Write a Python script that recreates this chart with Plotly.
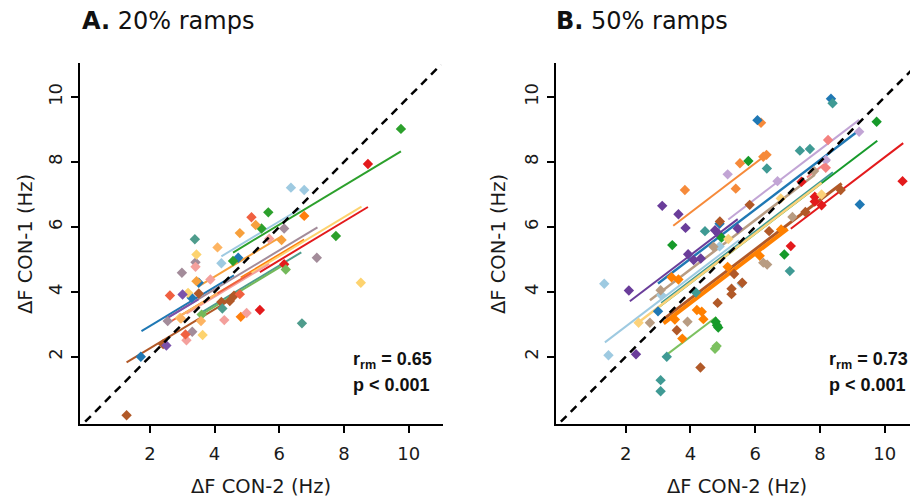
import plotly.graph_objects as go

W, H = 910, 498

# ---------------- Panel A: 20% ramps ----------------
A_slope = 0.6
A_colors = ["#1f78b4", "#b15928", "#2ca02c", "#9ecae1", "#f7a03c", "#ff7f0e",
            "#a38c9a", "#fdd36f", "#e31a1c", "#4e9c8c", "#74b95a", "#f4a09c",
            "#7b52ab", "#f06040", "#fdb462"]
A_x = [[1.72, 3.29, 3.51, 4.73],
       [1.28, 2.41, 3.51, 4.21, 4.47, 4.60],
       [4.57, 5.45, 5.66, 7.75, 9.76],
       [4.21, 6.36, 6.77],
       [3.44, 4.78, 5.27, 6.07],
       [4.81, 6.77],
       [2.55, 2.99, 3.31, 3.41, 6.15, 7.16],
       [2.93, 3.18, 3.44, 3.63, 8.52],
       [5.40, 6.15, 8.74],
       [3.39, 4.24, 6.70],
       [3.60, 6.20],
       [3.13, 3.41, 3.87, 4.30, 4.99, 5.69],
       [2.51, 3.01],
       [2.62, 3.10, 4.78, 5.14],
       [2.96, 3.58, 4.09]]
A_y = [[2.00, 3.82, 4.28, 5.05],
       [0.20, 2.39, 3.95, 3.69, 3.72, 3.88],
       [4.95, 5.95, 6.45, 5.72, 9.02],
       [4.88, 7.21, 7.14],
       [4.33, 5.81, 6.06, 5.60],
       [3.23, 6.34],
       [3.10, 4.59, 2.77, 4.91, 5.95, 5.05],
       [3.20, 3.97, 5.15, 2.67, 4.28],
       [3.44, 4.85, 7.94],
       [5.62, 3.49, 3.03],
       [3.30, 4.69],
       [2.51, 4.77, 4.38, 3.13, 3.35, 5.64],
       [2.35, 3.92],
       [3.89, 2.69, 3.93, 6.30],
       [3.18, 3.10, 5.37]]
A_fit_x0 = [1.74, 1.28, 4.57, 4.21, 3.49, 4.81, 2.51, 2.93, 5.40, 3.55, 3.60, 3.13, 2.51, 2.62, 2.96]
A_fit_x1 = [4.60, 4.60, 9.76, 6.65, 6.07, 6.77, 7.18, 8.54, 8.74, 6.68, 6.20, 5.69, 3.50, 5.14, 4.09]
A_fit_b = [1.75, 1.06, 2.47, 2.57, 2.07, 1.55, 1.68, 1.50, 1.37, 1.21, 1.15, 1.45, 1.67, 1.50, 1.50]

# ---------------- Panel B: 50% ramps ----------------
B_slope = 0.76
B_colors = ["#9ecae1", "#6a3d9a", "#f68a3a", "#c2a5d5", "#1f78b4", "#169a2a",
            "#e31a1c", "#b15928", "#ff8000", "#3f9a94", "#7cc160", "#b89c82",
            "#fcd27a", "#f4817f"]
B_x = [[1.34, 1.47, 3.10, 4.90, 5.58],
       [2.10, 2.32, 3.13, 3.63, 3.85, 3.93, 4.10, 4.32, 4.76, 4.86, 5.46],
       [3.83, 5.40, 5.53, 6.18, 6.25, 6.35],
       [5.15, 6.69, 8.18, 9.21],
       [3.00, 4.90, 6.07, 8.34, 9.23],
       [3.44, 4.78, 4.82, 4.86, 4.96, 5.79, 6.90, 9.75],
       [7.10, 7.43, 7.84, 7.84, 8.05, 10.55],
       [3.58, 4.31, 4.84, 4.91, 5.27, 5.27, 5.35, 5.60, 5.83, 6.43, 7.55, 8.64],
       [3.42, 3.52, 3.63, 3.75, 4.20, 4.35, 4.40, 5.15, 6.14, 6.80],
       [3.08, 3.08, 3.27, 4.17, 4.45, 6.36, 7.07, 7.38, 7.69, 8.39],
       [4.76, 4.81],
       [2.75, 3.08, 3.91, 4.71, 6.25, 6.37, 7.15, 7.82],
       [2.40, 5.17, 6.79, 8.05],
       [8.18, 8.25]]
B_y = [[4.25, 2.05, 3.90, 5.40, 4.26],
       [4.04, 2.08, 6.65, 6.39, 5.97, 5.16, 4.98, 5.03, 5.90, 5.80, 5.95],
       [7.14, 7.18, 7.96, 9.21, 8.16, 8.22],
       [7.62, 7.41, 8.06, 8.93],
       [3.40, 6.10, 9.29, 9.95, 6.69],
       [5.44, 3.08, 2.97, 2.90, 5.67, 8.03, 5.15, 9.24],
       [5.41, 7.39, 6.93, 6.78, 6.67, 7.41],
       [2.82, 1.67, 3.66, 6.17, 4.10, 3.93, 4.55, 4.28, 6.68, 5.87, 6.46, 7.14],
       [4.45, 3.15, 4.38, 2.56, 3.44, 3.39, 3.16, 4.77, 5.11, 5.92],
       [0.94, 1.28, 2.00, 3.98, 5.87, 7.80, 4.64, 8.35, 8.40, 9.81],
       [2.25, 2.33],
       [3.05, 4.05, 3.08, 5.39, 4.90, 4.84, 6.31, 7.72],
       [3.05, 5.63, 6.88, 7.00],
       [7.82, 8.68]]
B_fit_x0 = [1.36, 2.13, 3.47, 5.17, 3.00, 3.05, 7.10, 3.20, 3.17, 3.10, 3.15, 2.75, 2.34, 7.60]
B_fit_x1 = [5.50, 5.46, 6.40, 9.21, 9.23, 9.77, 10.57, 8.67, 7.00, 8.40, 4.80, 7.84, 8.05, 8.30]
B_fit_b = [1.41, 2.09, 3.40, 2.30, 1.98, 1.23, 0.55, 0.75, 0.62, 1.30, -0.42, 1.65, 1.24, 1.75]
B_fit_w = [2, 2, 2, 2, 2.5, 2, 2, 3, 4, 2, 2, 2.5, 2.5, 2]

diag = [0, 11]
xticks = [2, 4, 6, 8, 10]
yticks = [2, 4, 6, 8, 10]
x_title = "ΔF CON-2 (Hz)"
y_title = "ΔF CON-1 (Hz)"
stats_A = ["0.65", "p < 0.001"]
stats_B = ["0.73", "p < 0.001"]

FONT = "DejaVu Sans, Liberation Sans, sans-serif"
STAT_FONT = "Liberation Sans, Arial, sans-serif"

fig = go.Figure()


def add_panel(xs, ys, colors, x0s, x1s, bs, slope, widths, xa, ya):
    for i, c in enumerate(colors):
        fx = [x0s[i], x1s[i]]
        fy = [bs[i] + slope * v for v in fx]
        fig.add_trace(go.Scatter(x=fx, y=fy, mode="lines", xaxis=xa, yaxis=ya,
                                 line=dict(color=c, width=widths[i]),
                                 showlegend=False, hoverinfo="skip"))
    for i, c in enumerate(colors):
        fig.add_trace(go.Scatter(x=xs[i], y=ys[i], mode="markers", xaxis=xa, yaxis=ya,
                                 marker=dict(symbol="diamond", size=8, color=c,
                                             line=dict(width=0)),
                                 showlegend=False))
    fig.add_trace(go.Scatter(x=diag, y=diag, mode="lines", xaxis=xa, yaxis=ya,
                             line=dict(color="black", width=2.5, dash="8px,6px"),
                             showlegend=False, hoverinfo="skip"))


add_panel(A_x, A_y, A_colors, A_fit_x0, A_fit_x1, A_fit_b, A_slope,
          [2] * len(A_colors), "x", "y")
add_panel(B_x, B_y, B_colors, B_fit_x0, B_fit_x1, B_fit_b, B_slope,
          B_fit_w, "x2", "y2")


def px(x):
    return x / W


def py(y):
    return 1 - y / H


axis_common = dict(showline=True, linecolor="black", linewidth=2, ticks="outside",
                   ticklen=7, tickwidth=2, tickcolor="black", showgrid=False,
                   zeroline=False, tickvals=xticks,
                   tickfont=dict(family=FONT, size=18, color="#1a1a1a"))

fig.update_layout(
    width=W, height=H, margin=dict(l=0, r=0, t=0, b=0),
    paper_bgcolor="white", plot_bgcolor="white",
    font=dict(family=FONT, color="#1a1a1a"),
    xaxis=dict(axis_common, domain=[px(80), px(443)], range=[-0.16, 11.06], anchor="y",
               ticklabelstandoff=5),
    yaxis=dict(axis_common, domain=[py(424), py(63)], range=[-0.07, 11.05],
               tickvals=yticks, tickangle=-90, anchor="x", ticklabelstandoff=2),
    xaxis2=dict(axis_common, domain=[px(556), 1.0], range=[-0.15, 10.78], anchor="y2",
                ticklabelstandoff=5),
    yaxis2=dict(axis_common, domain=[py(424), py(63)], range=[-0.07, 11.05],
                tickvals=yticks, tickangle=-90, anchor="x2", ticklabelstandoff=2),
)

ann = []
for xl, label in [(80, "<b>A.</b> 20% ramps"), (554, "<b>B.</b> 50% ramps")]:
    ann.append(dict(x=px(xl), y=py(21), xref="paper", yref="paper", text=label,
                    showarrow=False, xanchor="left", yanchor="middle",
                    font=dict(family=FONT, size=24, color="#111")))
for xc in [261, 737]:
    ann.append(dict(x=px(xc), y=py(486), xref="paper", yref="paper", text=x_title,
                    showarrow=False, xanchor="center", yanchor="middle",
                    font=dict(family=FONT, size=19.5, color="#1a1a1a")))
for xc in [25, 498]:
    ann.append(dict(x=px(xc), y=py(244), xref="paper", yref="paper", text=y_title,
                    showarrow=False, xanchor="center", yanchor="middle", textangle=-90,
                    font=dict(family=FONT, size=19.5, color="#1a1a1a")))
for xl, st in [(351, stats_A), (827, stats_B)]:
    ann.append(dict(x=px(xl), y=py(360), xref="paper", yref="paper",
                    text="<b>r<sub>rm</sub> = " + st[0] + "</b>",
                    showarrow=False, xanchor="left", yanchor="middle",
                    font=dict(family=STAT_FONT, size=18, color="#111")))
    ann.append(dict(x=px(xl), y=py(385), xref="paper", yref="paper",
                    text="<b>" + st[1].replace("<", "&lt;") + "</b>",
                    showarrow=False, xanchor="left", yanchor="middle",
                    font=dict(family=STAT_FONT, size=18, color="#111")))
fig.update_layout(annotations=ann)

fig.write_html("out.html", config={"displayModeBar": False},
               post_script="document.body.style.margin='0';document.body.style.overflow='hidden';")
